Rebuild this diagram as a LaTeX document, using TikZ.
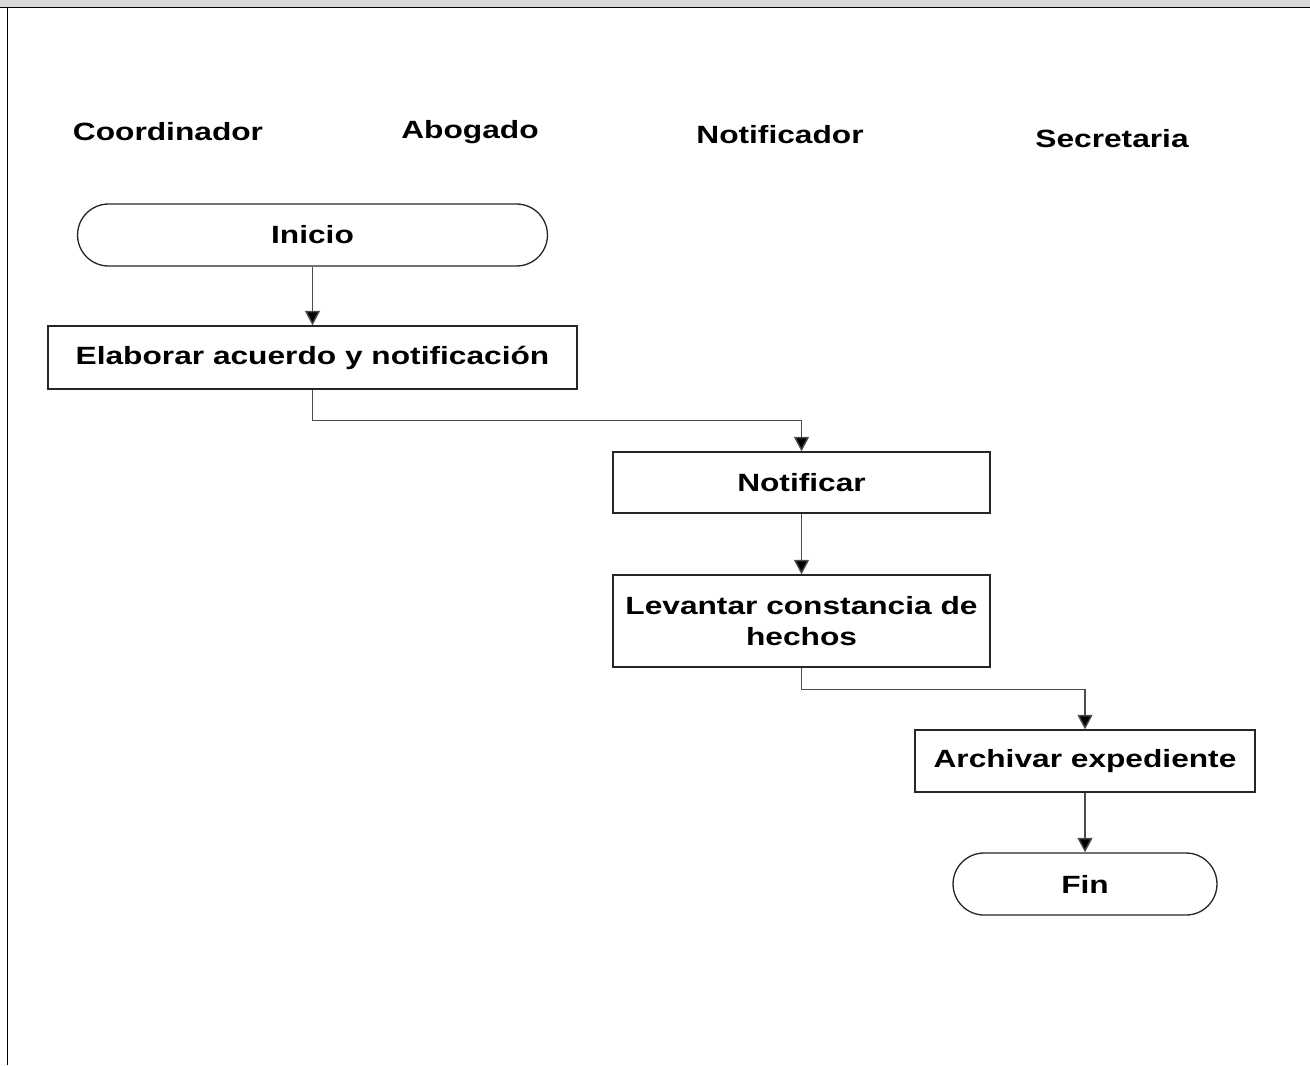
\documentclass[tikz,border=0pt]{standalone}
\usepackage{fontspec}
\setmainfont{Liberation Sans}
\usetikzlibrary{arrows.meta}
\newcommand{\wide}[1]{\scalebox{1.27}[1]{#1}}
\begin{document}
\begin{tikzpicture}[x=0.02cm,y=-0.02cm,
  every node/.style={font=\fontsize{14.2}{17.6}\selectfont\bfseries, inner sep=0pt},
  proc/.style={draw=black!85, line width=0.75pt, rectangle, align=center},
  term/.style={draw=black!85, line width=0.75pt, rectangle, rounded corners=0.62cm},
  lane/.style={},
  arr/.style={draw=black!70, line width=0.8pt, -{Triangle[length=0.29cm,width=0.3cm,fill=black]}}]
  \useasboundingbox (0,0) rectangle (1310,1065);
  % frame: grey header strip and rules
  \fill[black!15] (0,0) rectangle (1310,7);
  \draw[line width=1.1pt] (0,7.5) -- (1310,7.5);
  \draw[line width=0.9pt] (7.5,7.5) -- (7.5,1065);
  % lane headings
  \node[lane] (hcoord) at (168,132) {\wide{Coordinador}};
  \node[lane] (habog) at (470,132) {\wide{Abogado}};
  \node[lane] (hnotif) at (780,135) {\wide{Notificador}};
  \node[lane] (hsecr) at (1112,139) {\wide{Secretaria}};
  % steps
  \node[term, minimum width=9.4cm, minimum height=1.24cm] (inicio) at (312.5,235) {\wide{Inicio}};
  \node[proc, minimum width=10.58cm, minimum height=1.26cm] (elab) at (312.5,357.5) {\wide{Elaborar acuerdo y notificación}};
  \node[proc, minimum width=7.54cm, minimum height=1.22cm] (notif) at (801.5,482.5) {\wide{Notificar}};
  \node[proc, minimum width=7.54cm, minimum height=1.84cm] (levant) at (801.5,621) {\raisebox{-0.06cm}[\height][\depth]{\wide{\begin{tabular}{@{}c@{}}Levantar constancia de\\hechos\end{tabular}}}};
  \node[proc, minimum width=6.8cm, minimum height=1.24cm] (archiv) at (1085,761) {\wide{Archivar expediente}};
  \node[term, minimum width=5.28cm, minimum height=1.24cm] (fin) at (1085,884) {\wide{Fin}};
  % connectors
  \draw[arr] (inicio) -- (elab);
  \draw[arr] (elab.south) -- ++(0,31) -| (notif.north);
  \draw[arr] (notif) -- (levant);
  \draw[arr] (levant.south) -- ++(0,22) -| (archiv.north);
  \draw[arr] (archiv) -- (fin);
\end{tikzpicture}
\end{document}
